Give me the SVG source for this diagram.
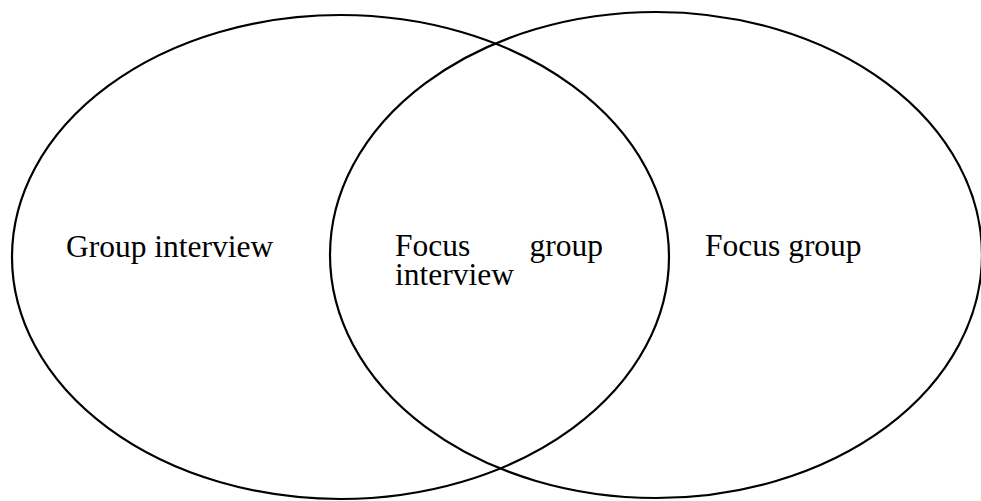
<svg xmlns="http://www.w3.org/2000/svg" width="981" height="501" viewBox="0 0 981 501">
<style>
.e{fill:none;stroke:#000;stroke-width:2.2}
.t{font-family:"Liberation Serif","Times New Roman",serif;font-size:31.5px;fill:#000}
</style>
<rect width="981" height="501" fill="#fff"/>
<g id="left-set">
<ellipse class="e" cx="340.5" cy="257" rx="328.5" ry="242"/>
<text class="t" x="66" y="257">Group interview</text>
</g>
<g id="right-set">
<ellipse class="e" cx="656" cy="255" rx="326" ry="243"/>
<text class="t" x="705" y="256">Focus group</text>
</g>
<g id="intersection">
<text class="t" x="395" y="256"><tspan>Focus</tspan><tspan x="603" text-anchor="end">group</tspan><tspan x="395" dy="29">interview</tspan></text>
</g>
<g id="connectors"/>
</svg>
